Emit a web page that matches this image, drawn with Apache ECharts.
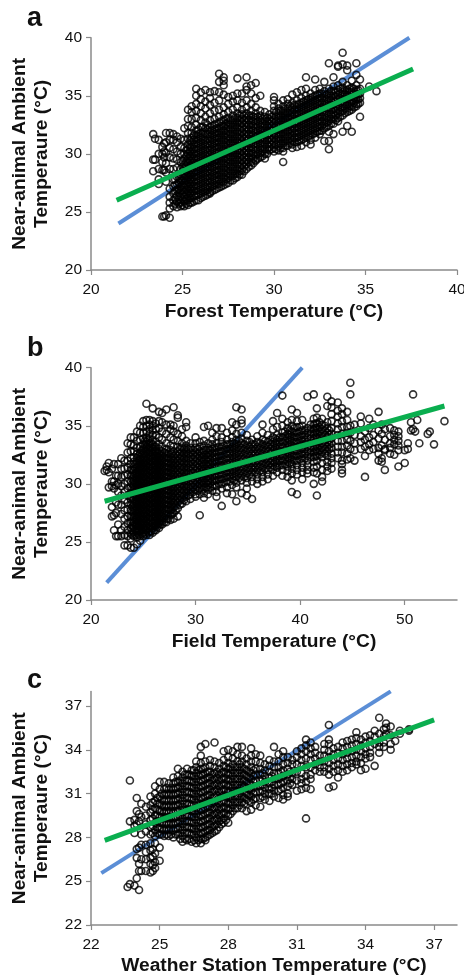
<!DOCTYPE html>
<html><head><meta charset="utf-8">
<script src="https://cdn.jsdelivr.net/npm/echarts@6/dist/echarts.min.js"></script>
<style>html,body{margin:0;padding:0;background:#fff}#c{width:464px;height:976px}</style></head>
<body><div id="c"></div>
<script>
// Each entry: [x value, [y values read at about that x]]
const forestPoints=[
[23.4,[31.7,29.5,28.5]],[23.5,[31.3,29.5]],[23.7,[31.2,30,28.7,27.8,27.4]],[23.9,[30.6,30,29.3,28.6,24.6]],[24,[30.9,30.2,29.7,28.6,24.6]],[24.1,[31.8,31,30.1,29.2,28.4,27.6,24.7]],
[24.3,[31.8,31.2,30.5,29.7,28.7,27,26.3,25.8,25.3,24.5]],[24.5,[31.7,31.2,30.4,29.6,28.7,27.8,27.2,26.6,26,25.5]],[24.7,[31.5,31,30.2,29.5,28.8,28,27.4,26.9,26.4,25.9,25.4]],
[24.9,[31.3,30.6,30,29.3,28.7,28.2,27.7,27.2,26.8,26.3,25.8,25.5]],
[25.1,[32.2,31.2,30.5,30,29.6,29.1,28.7,28.3,27.9,27.5,27.1,26.7,26.3,25.9,25.5]],
[25.3,[33.8,33,32.4,31.8,31.3,30.8,30.4,30,29.6,29.2,28.8,28.4,28,27.6,27.2,26.8,26.4,26,25.6]],
[25.5,[34.1,33.6,33,32.3,31.8,31.4,31,30.6,30.2,29.8,29.4,29,28.6,28.2,27.8,27.4,27,26.6,26.2,25.8]],
[25.75,[35.6,35,34.3,33.7,33.1,32.5,32,31.6,31.2,30.8,30.4,30,29.6,29.2,28.8,28.4,28,27.6,27.2,26.8,26.4,26]],
[26,[35.3,34.7,34.1,33.5,32.9,32.3,31.8,31.4,31,30.6,30.2,29.8,29.4,29,28.6,28.2,27.8,27.4,27,26.6,26.2]],
[26.25,[35.5,34.5,33.9,33.2,32.7,32.2,31.7,31.2,30.8,30.4,30,29.6,29.2,28.8,28.4,28,27.6,27.2,26.8,26.4]],
[26.5,[35.3,34.8,34.2,33.5,32.9,32.3,31.9,31.5,31.1,30.7,30.3,29.9,29.5,29.1,28.7,28.3,27.9,27.5,27.1,26.7,26.6]],
[26.75,[35.4,34.4,33.7,33,32.5,32.1,31.7,31.3,30.9,30.5,30.1,29.7,29.3,28.9,28.5,28.1,27.7,27.3,26.9]],
[27,[36.9,36.2,35.3,34.6,33.8,33.2,32.7,32.2,31.8,31.4,31,30.6,30.2,29.8,29.4,29,28.6,28.2,27.8,27.4,27.1]],
[27.25,[36.6,36.3,35.9,35.1,34,33.4,32.9,32.4,32,31.6,31.2,30.8,30.4,30,29.6,29.2,28.8,28.4,28,27.6,27.3]],
[27.5,[34.9,34.3,33.6,33.1,32.7,32.3,31.9,31.5,31.1,30.7,30.3,29.9,29.5,29.1,28.7,28.3,27.9,27.5]],
[27.75,[35,34.5,33.8,33.3,32.9,32.5,32.1,31.7,31.3,30.9,30.5,30.1,29.7,29.3,28.9,28.5,28.1,27.7]],
[28,[36.5,35.2,34.6,34,33.5,33.1,32.7,32.3,31.9,31.5,31.1,30.7,30.3,29.9,29.5,29.1,28.7,28.3,28]],
[28.25,[35.2,34.4,33.8,33.4,33,32.6,32.2,31.8,31.4,31,30.6,30.2,29.8,29.4,29,28.6,28.2]],
[28.5,[36.6,35.8,35.5,34.6,34,33.5,33.1,32.7,32.3,31.9,31.5,31.1,30.7,30.3,29.9,29.5,29.1,28.7]],
[28.75,[35.9,35.2,34.3,33.7,33.3,32.9,32.5,32.1,31.7,31.3,30.9,30.5,30.1,29.7,29.3,29]],
[29,[36.1,34.8,34,33.5,33.1,32.7,32.3,31.9,31.5,31.1,30.7,30.3,29.9,29.5,29.4]],
[29.25,[35,33.7,33.3,32.9,32.5,32.1,31.7,31.3,30.9,30.5,30.1,29.7]],
[29.5,[33.6,33.2,32.8,32.4,32,31.6,31.2,30.8,30.4,30,29.6]],
[29.75,[33.4,33,32.6,32.2,31.8,31.4,31,30.6,30.3]],
[30,[34.9,34.6,34.1,33.7,33.3,32.9,32.5,32.1,31.7,31.3,30.9,30.5,30.2]],
[30.25,[34.3,33.9,33.5,33.1,32.7,32.3,31.9,31.5,31.1,30.7,30.3]],
[30.5,[34.6,34.1,33.7,33.3,32.9,32.5,32.1,31.7,31.3,30.9,30.5,30.2,29.3]],
[30.75,[34.7,34.3,33.9,33.5,33.1,32.7,32.3,31.9,31.5,31.1,30.7]],
[31,[35.1,34.4,34,33.6,33.2,32.8,32.4,32,31.6,31.2,30.8,30.5]],
[31.25,[35.3,34.6,34.2,33.8,33.4,33,32.6,32.2,31.8,31.4,31,30.6]],
[31.5,[35.5,34.8,34.4,34,33.6,33.2,32.8,32.4,32,31.6,31.2,30.7]],
[31.75,[36.6,35.6,35,34.6,34.2,33.8,33.4,33,32.6,32.2,31.8,31.4,31]],
[32,[35.2,34.8,34.4,34,33.6,33.2,32.8,32.4,32,31.6,31.2,30.8]],
[32.25,[36.4,35.5,35,34.6,34.2,33.8,33.4,33,32.6,32.2,31.8,31.4]],
[32.5,[35.6,35.2,34.8,34.4,34,33.6,33.2,32.8,32.4,32,31.7]],
[32.75,[36.2,35.4,35,34.6,34.2,33.8,33.4,33,32.6,32.2,31.1]],
[33,[37.8,35.6,35.2,34.8,34.4,34,33.6,33.2,32.8,32.4,31.9,31.1,30.4]],
[33.25,[36.6,35.8,35.4,35,34.6,34.2,33.8,33.4,33,32.6,31.7]],
[33.5,[37.6,37.5,35.9,35.5,35.1,34.7,34.3,33.9,33.5,33.1,32.8]],
[33.75,[38.7,37.7,36.2,35.7,35.3,34.9,34.5,34.1,33.7,33.3,31.9]],
[34,[37.6,37.2,35.9,35.5,35.1,34.7,34.3,33.9,33.6,32.4]],
[34.25,[36.3,35.7,35.3,34.9,34.5,34.1,33.8,31.9]],
[34.5,[37.8,36.8,35.9,35.5,35.1,34.7,34.3,34.1]],
[34.7,[36.4,35.6,35.2,34.8,34.4,33.2]],[35.2,[35.8]],[35.6,[35.4]]
];
const forestCore=[
[24.6,[25.7,26.2,26.8,27.3,27.8]],[24.8,[25.7,26.1,26.6,27,27.5,27.9]],[25,[25.6,26,26.5,26.9,27.3,27.7,28.1,28.5,28.9,29.4]],
[25.2,[25.7,26.1,26.5,26.9,27.3,27.7,28.1,28.5,28.9,29.3,29.8,30.3]],[25.4,[25.8,26.2,26.6,27,27.4,27.8,28.2,28.6,29,29.4,29.8,30.2,30.6,31.1]],
[25.62,[25.9,26.4,26.8,27.2,27.6,28,28.4,28.8,29.2,29.6,30,30.4,30.8,31.2,31.6]],[25.87,[26,26.5,26.9,27.3,27.7,28.1,28.5,28.9,29.3,29.7,30.1,30.5,30.9,31.3,31.7,32.1]],
[26.12,[26.3,26.7,27.1,27.5,27.9,28.3,28.7,29.1,29.5,29.9,30.3,30.7,31.1,31.5,31.9,32.3]],[26.37,[26.5,26.9,27.3,27.7,28.1,28.5,28.9,29.3,29.7,30.1,30.5,30.9,31.3,31.7,32.1,32.5]],
[26.62,[26.8,27.2,27.6,28,28.4,28.8,29.2,29.6,30,30.4,30.8,31.2,31.6,32,32.4]],[26.87,[27,27.4,27.8,28.2,28.6,29,29.4,29.8,30.2,30.6,31,31.4,31.8,32.2,32.6]],
[27.12,[27.2,27.6,28,28.4,28.8,29.2,29.6,30,30.4,30.8,31.2,31.6,32,32.4,32.8]],[27.37,[27.4,27.8,28.2,28.6,29,29.4,29.8,30.2,30.6,31,31.4,31.8,32.2,32.6,33]],
[27.62,[27.7,28.1,28.5,28.9,29.3,29.7,30.1,30.5,30.9,31.3,31.7,32.1,32.5,32.9]],[27.87,[27.9,28.3,28.7,29.1,29.5,29.9,30.3,30.7,31.1,31.5,31.9,32.3,32.7,33.1]],
[28.12,[28.2,28.5,28.9,29.3,29.7,30.1,30.5,30.9,31.3,31.7,32.1,32.5,32.9,33.3]],[28.37,[28.5,28.9,29.3,29.7,30.1,30.5,30.9,31.3,31.7,32.1,32.5,32.9,33.3]],
[28.62,[28.9,29.3,29.7,30.1,30.5,30.9,31.3,31.7,32.1,32.5,32.9,33.3]],[28.87,[29.2,29.6,30,30.4,30.8,31.2,31.6,32,32.4,32.8,33.2]],
[29.12,[29.6,30,30.4,30.8,31.2,31.6,32,32.4,32.8,33.2]],[29.37,[29.8,30.2,30.6,31,31.4,31.8,32.2,32.6,33]],[29.62,[30,30.4,30.8,31.2,31.6,32,32.4,32.8,33.1]],[29.87,[30.4,30.8,31.2,31.6,32,32.4,32.8,33.2]],
[30.12,[30.4,30.8,31.2,31.6,32,32.4,32.8,33.2,33.6]],[30.37,[30.5,30.9,31.3,31.7,32.1,32.5,32.9,33.3,33.7]],[30.62,[30.7,31.1,31.5,31.9,32.3,32.7,33.1,33.5,33.9]],[30.87,[30.9,31.3,31.7,32.1,32.5,32.9,33.3,33.7,34.1]],
[31.12,[31,31.4,31.8,32.2,32.6,33,33.4,33.8,34.2]],[31.37,[31.1,31.5,31.9,32.3,32.7,33.1,33.5,33.9,34.3]],[31.62,[31.3,31.7,32.1,32.5,32.9,33.3,33.7,34.1,34.5]],[31.87,[31.5,31.9,32.3,32.7,33.1,33.5,33.9,34.3,34.7]],
[32.12,[31.7,32.1,32.5,32.9,33.3,33.7,34.1,34.5,34.9]],[32.37,[31.9,32.3,32.7,33.1,33.5,33.9,34.3,34.7,35.1]],[32.62,[32,32.4,32.8,33.2,33.6,34,34.4,34.8,35.2]],[32.87,[32.3,32.7,33.1,33.5,33.9,34.3,34.7,35.1]],
[33.12,[32.6,33,33.4,33.8,34.2,34.6,35,35.4]],[33.37,[32.9,33.3,33.7,34.1,34.5,34.9,35.3]],[33.62,[33.2,33.6,34,34.4,34.8,35.2,35.6]],[33.87,[33.5,33.9,34.3,34.7,35.1,35.5]],[34.12,[33.7,34.1,34.5,34.9,35.3,35.6]],[34.37,[34,34.4,34.8,35.2,35.6]],[34.6,[34.3,34.7,35.1,35.5]]
];
const fieldPoints=[
[21.3,[31.1]],[21.5,[31.5,31.2]],[21.7,[31.8,31,29.7]],[22,[31.3,30.2,29.8,28,27.2]],[22.2,[31.7,30.2,29.6,27.3,26]],[22.4,[30.7,29.9,28.4,27.5,25.5]],[22.6,[31.7,30.7,30,29.3,28.2,26.5,25.5]],[22.9,[32.2,31.3,30.6,29.8,29,28.2,27.4,26,25.5]],
[23.2,[32,31.3,30.7,30,29.3,28.6,27.7,27,26.3,25.6,24.7]],[23.5,[33.5,32.7,32,31.4,30.8,30.2,29.6,29,28.4,27.8,27.2,26.6,26,25.5,24.7]],
[23.8,[34,33.4,32.8,32.2,31.7,31.2,30.7,30.2,29.7,29.2,28.7,28.2,27.7,27.2,26.7,26.2,25.7,25.3,24.5]],
[24.1,[34,33.3,32.8,32.3,31.9,31.5,31.1,30.7,30.3,29.9,29.5,29.1,28.7,28.3,27.9,27.5,27.1,26.7,26.3,25.9,25.5,24.5]],
[24.4,[34.5,33.7,33.1,32.6,32.2,31.8,31.4,31,30.6,30.2,29.8,29.4,29,28.6,28.2,27.8,27.4,27,26.6,26.2,25.8,25.4,24.8]],
[24.7,[35,34.4,33.8,33.2,32.7,32.3,31.9,31.5,31.1,30.7,30.3,29.9,29.5,29.1,28.7,28.3,27.9,27.5,27.1,26.7,26.3,25.9,25.5,25.1]],
[25,[35.4,34.9,34.4,33.9,33.4,33,32.6,32.2,31.8,31.4,31,30.6,30.2,29.8,29.4,29,28.6,28.2,27.8,27.4,27,26.6,26.2,25.8,25.5]],
[25.3,[36.9,35.5,35,34.5,34,33.6,33.2,32.8,32.4,32,31.6,31.2,30.8,30.4,30,29.6,29.2,28.8,28.4,28,27.6,27.2,26.8,26.4,26,25.6]],
[25.6,[35.5,35.1,34.7,34.3,33.9,33.5,33.1,32.7,32.3,31.9,31.5,31.1,30.7,30.3,29.9,29.5,29.1,28.7,28.3,27.9,27.5,27.1,26.7,26.3,25.9,25.6]],
[25.9,[36.5,35.4,35,34.6,34.2,33.8,33.4,33,32.6,32.2,31.8,31.4,31,30.6,30.2,29.8,29.4,29,28.6,28.2,27.8,27.4,27,26.6,26.2,25.8]],
[26.2,[35.2,34.7,34.2,33.6,33.2,32.8,32.4,32,31.6,31.2,30.8,30.4,30,29.6,29.2,28.8,28.4,28,27.6,27.2,26.8,26.4,26]],
[26.5,[36.2,35.4,34.8,34,33.4,33,32.6,32.2,31.8,31.4,31,30.6,30.2,29.8,29.4,29,28.6,28.2,27.8,27.4,27,26.6,26.2]],
[26.8,[36.1,35.3,34.5,33.8,33.2,32.8,32.4,32,31.6,31.2,30.8,30.4,30,29.6,29.2,28.8,28.4,28,27.6,27.2,26.8,26.5]],
[27.2,[36.4,35.1,34.3,33.5,33,32.6,32.2,31.8,31.4,31,30.6,30.2,29.8,29.4,29,28.6,28.2,27.8,27.4,27,26.7]],
[27.6,[35.1,34.7,34,33.3,32.9,32.5,32.1,31.7,31.3,30.9,30.5,30.1,29.7,29.3,28.9,28.5,28.1,27.7,27.3,26.9]],
[27.9,[36.6,35,34.5,33.8,33.2,32.8,32.4,32,31.6,31.2,30.8,30.4,30,29.6,29.2,28.8,28.4,28,27.5,27]],
[28.3,[35.9,35.7,34.3,33.7,33.2,32.8,32.4,32,31.6,31.2,30.8,30.4,30,29.6,29.2,28.8,28.4,27.9,27.2]],
[28.7,[34.7,34.1,33.5,33.1,32.7,32.3,31.9,31.5,31.1,30.7,30.3,29.9,29.5,29.1,28.7,28.3]],
[29.1,[35.3,34.9,33.7,33.3,32.9,32.5,32.1,31.7,31.3,30.9,30.5,30.1,29.7,29.3,28.9,28.5]],
[29.5,[33.5,33.1,32.7,32.3,31.9,31.5,31.1,30.7,30.3,29.9,29.5,29.1,28.7]],
[30,[34,33.5,33.1,32.7,32.3,31.9,31.5,31.1,30.7,30.3,29.9,29.5,29.1,28.9]],
[30.4,[33.6,33.2,32.8,32.4,32,31.6,31.2,30.8,30.4,30,29.6,29.1,27.3]],
[30.8,[34.9,33.7,33.3,32.9,32.5,32.1,31.7,31.3,30.9,30.5,30.1,29.7,29.2,28.8]],
[31.2,[35,33.5,33.1,32.7,32.3,31.9,31.5,31.1,30.7,30.3,29.9,29.5,29.1]],
[31.6,[34.4,33.8,33.4,33,32.6,32.2,31.8,31.4,31,30.6,30.2,29.8,29.4]],
[32,[34.8,34.1,33.5,33.1,32.7,32.3,31.9,31.5,31.1,30.7,30.3,29.8,29.3,28.9]],
[32.5,[34.8,34,33.6,33.2,32.8,32.4,32,31.6,31.2,30.8,30.4,30,29.6,28.1]],
[33,[34.4,33.8,33.4,33,32.6,32.2,31.8,31.4,31,30.6,30.2,29.7,29.2]],
[33.5,[35.3,34.6,34,33.6,33.2,32.8,32.4,32,31.6,31.2,30.8,30.4,29.9,29.1]],
[33.9,[36.6,35.1,34.3,33.8,33.4,33,32.6,32.2,31.8,31.4,31,30.6,30.1,29.7,28.5]],
[34.4,[36.4,35.5,35.2,34.4,33.9,33.5,33.1,32.7,32.3,31.9,31.5,31.1,30.7,30.3,29.2]],
[34.9,[34.2,33.7,33.3,32.9,32.5,32.1,31.7,31.3,30.9,30.5,30.1,29.6,29]],
[35.4,[33.8,33.4,33,32.6,32.2,31.8,31.4,31,30.6,30.2,28.7]],
[35.9,[34.1,33.6,33.2,32.8,32.4,32,31.6,31.2,30.8,30.4,30]],
[36.4,[35.1,34.4,33.8,33.4,33,32.6,32.2,31.8,31.4,31,30.6,30.2]],
[36.9,[34.2,33.6,33.2,32.8,32.4,32,31.6,31.2,30.8,30.4]],
[37.4,[35.4,34.7,34,33.6,33.2,32.8,32.4,32,31.6,31.2,30.7]],
[37.8,[36.1,34.9,34.2,33.8,33.4,33,32.6,32.2,31.8,31.4,31]],
[38.3,[37.6,35.6,35,34.4,34,33.6,33.2,32.8,32.4,32,31.6,31.2,30.7]],
[38.8,[35.3,34.8,34.3,33.9,33.5,33.1,32.7,32.3,31.9,31.5,31.1,30.6]],
[39.2,[36.4,35.5,35,34.5,34.1,33.7,33.3,32.9,32.5,32.1,31.7,31.3,30.9,30.3,29.3]],
[39.7,[36.1,35.4,34.9,34.4,34,33.6,33.2,32.8,32.4,32,31.6,31.2,30.8,29.1]],
[40.2,[35.5,35,34.6,34.2,33.8,33.4,33,32.6,32.2,31.8,31.4,31,30.4]],
[40.7,[37.5,34.8,34.4,34,33.6,33.2,32.8,32.4,32,31.6,31.2,30.9]],
[41.3,[37.7,35.6,35.1,34.7,34.3,33.9,33.5,33.1,32.7,32.3,31.9,31.4,31,30]],
[41.6,[36.5,35.7,35.2,34.8,34.4,34,33.6,33.2,32.8,32.4,32,31.5,30.9,29]],
[42.1,[35.6,35.1,34.7,34.3,33.9,33.5,33.1,32.7,32.3,31.8,31.2,30.6,30.2]],
[42.6,[37.5,36.7,35.3,34.8,34.4,34,33.6,33.2,32.8,32.4,31.9,31.5,31.1]],
[43,[37.1,36.6,36,35.4,34.8,34.3,33.9,33.5,33.1,32.6,32.2,31.8,31.3]],
[43.6,[37,36.3,35.8,35.2,34.7,34.2,33.7,33.2,32.7,32.2]],
[44,[36.5,36,35.4,34.9,34.3,33.7,33.2,32.7,32,31.7,31.2,30.9]],
[44.5,[36.2,35.5,34.9,34.4,33.8,33.3,32.6,32.1]],[44.8,[38.7,37.7,35,34.4,33.7,33,32.2]],[45.2,[35.1,34.2,33.5,32.9,32]],[45.8,[35.8,35.2,34.1,33.6,33]],[46.2,[34.5,33.8,33.2,32.4,30.6]],[46.6,[35.6,34.8,34,33.4,32.9]],[47,[35.1,34.2,33.6,33]],[47.5,[36.2,34.6,33.9,33.1,32.6,32]],[47.8,[35.1,34.3,33.3,32.2,31.9]],[48.1,[34.7,33.8,33,32.9,31.2]],[48.6,[34.8,34.1,33.5,33.1,32.6]],[49,[34.6,34.2,33.8,33.4,32.5]],[49.4,[34.5,34.1,33.7,33.3,32.9,31.5]],[50,[32.9,31.8]],[50.3,[33.5,33]],[50.6,[35.3,34.6]],[50.8,[37.7,34.7]],[51,[34.5]],[51.2,[35.5]],[51.4,[33.5]],[52.2,[34.3]],[52.4,[34.5]],[52.8,[33.4]],[53.8,[35.4]]
];
const fieldCore=[
[23.95,[25.6,26,26.4,26.8,27.2,27.6,28,28.4,28.8,29.2,29.6,30,30.4,30.8,31.2]],[24.25,[25.6,26.1,26.5,26.9,27.3,27.7,28.1,28.5,28.9,29.3,29.7,30.1,30.5,30.9,31.3,31.7]],
[24.55,[25.6,26,26.4,26.8,27.2,27.6,28,28.4,28.8,29.2,29.6,30,30.4,30.8,31.2,31.6,32,32.4]],[24.85,[25.7,26.1,26.5,26.9,27.3,27.7,28.1,28.5,28.9,29.3,29.7,30.1,30.5,30.9,31.3,31.7,32.1,32.5,32.9]],
[25.15,[25.7,26.1,26.5,26.9,27.3,27.7,28.1,28.5,28.9,29.3,29.7,30.1,30.5,30.9,31.3,31.7,32.1,32.5,32.9,33.3,33.7]],[25.45,[25.8,26.2,26.6,27,27.4,27.8,28.2,28.6,29,29.4,29.8,30.2,30.6,31,31.4,31.8,32.2,32.6,33,33.4,33.8]],
[25.75,[25.9,26.3,26.7,27.1,27.5,27.9,28.3,28.7,29.1,29.5,29.9,30.3,30.7,31.1,31.5,31.9,32.3,32.7,33.1,33.5]],[26.05,[26,26.4,26.8,27.2,27.6,28,28.4,28.8,29.2,29.6,30,30.4,30.8,31.2,31.6,32,32.4,32.8,33.2]],
[26.35,[26.3,26.7,27.1,27.5,27.9,28.3,28.7,29.1,29.5,29.9,30.3,30.7,31.1,31.5,31.9,32.3,32.7]],[26.65,[26.5,26.9,27.3,27.7,28.1,28.5,28.9,29.3,29.7,30.1,30.5,30.9,31.3,31.7,32.1,32.5]],
[27,[26.7,27.1,27.5,27.9,28.3,28.7,29.1,29.5,29.9,30.3,30.7,31.1,31.5,31.9,32.3,32.7]],[27.4,[27,27.4,27.8,28.2,28.6,29,29.4,29.8,30.2,30.6,31,31.4,31.8,32.2,32.6]],
[27.75,[27.4,27.8,28.2,28.6,29,29.4,29.8,30.2,30.6,31,31.4,31.8,32.2,32.6]],[28.1,[27.7,28.1,28.5,28.9,29.3,29.7,30.1,30.5,30.9,31.3,31.7,32.1,32.5]],
[28.5,[28.2,28.6,29,29.4,29.8,30.2,30.6,31,31.4,31.8,32.2,32.6,33]],[28.9,[28.6,29,29.4,29.8,30.2,30.6,31,31.4,31.8,32.2,32.6,33]],[29.3,[29,29.4,29.8,30.2,30.6,31,31.4,31.8,32.2,32.6,33]],[29.75,[29.3,29.7,30.1,30.5,30.9,31.3,31.7,32.1,32.5,32.9]],
[30.2,[29.4,29.8,30.2,30.6,31,31.4,31.8,32.2,32.6,33]],[30.6,[29.5,29.9,30.3,30.7,31.1,31.5,31.9,32.3,32.7]],[31,[29.7,30.1,30.5,30.9,31.3,31.7,32.1,32.5,32.9]],[31.4,[29.7,30.1,30.5,30.9,31.3,31.7,32.1,32.5,32.9]],[31.8,[29.9,30.3,30.7,31.1,31.5,31.9,32.3,32.7,33.1]],
[32.25,[30,30.4,30.8,31.2,31.6,32,32.4,32.8,33.2]],[32.75,[30.1,30.5,30.9,31.3,31.7,32.1,32.5,32.9,33.3]],[33.25,[30.2,30.6,31,31.4,31.8,32.2,32.6,33,33.4]],[33.7,[30.3,30.7,31.1,31.5,31.9,32.3,32.7,33.1,33.5]],[34.15,[30.5,30.9,31.3,31.7,32.1,32.5,32.9,33.3,33.7]],
[34.65,[30.6,31,31.4,31.8,32.2,32.6,33,33.4]],[35.15,[30.8,31.2,31.6,32,32.4,32.8,33.2,33.6]],[35.65,[31,31.4,31.8,32.2,32.6,33,33.4]],[36.15,[31.1,31.5,31.9,32.3,32.7,33.1,33.5]],[36.65,[31.3,31.7,32.1,32.5,32.9,33.3,33.7]],
[37.15,[31.4,31.8,32.2,32.6,33,33.4,33.8]],[37.6,[31.5,31.9,32.3,32.7,33.1,33.5,33.9]],[38.05,[31.6,32,32.4,32.8,33.2,33.6,34]],[38.55,[31.7,32.1,32.5,32.9,33.3,33.7,34.1,34.5]],[39,[31.8,32.2,32.6,33,33.4,33.8,34.2,34.6]],
[39.45,[32,32.4,32.8,33.2,33.6,34,34.4,34.8]],[39.95,[32.1,32.5,32.9,33.3,33.7,34.1,34.5,34.9]],[40.45,[32.2,32.6,33,33.4,33.8,34.2,34.6]],[41,[32.3,32.7,33.1,33.5,33.9,34.3,34.7,35.1]],[41.45,[32.4,32.8,33.2,33.6,34,34.4,34.8,35.2]],[41.85,[32.5,32.9,33.3,33.7,34.1,34.5,34.9,35.3]],[42.35,[32.6,33,33.4,33.8,34.2,34.6,35]],[42.8,[33,33.4,33.8,34.2,34.6]]
];
const stationPoints=[
[23.6,[24.6]],[23.7,[24.8,31.9,29.1]],[23.9,[24.7,28.3,29.2,28.8]],[24,[30.7,29.8,25.2,28.9,27.2,26.6]],[24.1,[24.4,26.2,27.3,25.7,29.1,29.6]],[24.2,[30.3,29.4,28.2,27.5,26.5,25.7]],
[24.4,[30.1,29.5,28.9,28.4,27.5,27,26.5,25.7]],[24.6,[30.8,30.2,29.7,29.2,28.7,28.2,27.6,27.1,26.6,26.2,25.6]],[24.7,[30.4,29.9,29.3,28.8,28.3,27.2,26.7,26.1,25.7]],
[24.8,[31.5,31,30.5,30,29.5,29,28.5,28.1,27.6,26.9,26.3,25.9]],[25,[31.8,31.3,30.8,30.3,29.8,29.4,29,28.6,28.2,27.3,26.4]],[25.2,[31.8,31.3,30.9,30.5,30.1,29.7,29.3,28.9,28.5,28.1]],
[25.4,[31.7,31.3,30.9,30.5,30.1,29.7,29.3,28.9,28.5,28.1]],[25.6,[32.1,31.7,31.3,30.9,30.5,30.1,29.7,29.3,28.9,28.5,28]],[25.8,[32.7,32.2,31.8,31.4,31,30.6,30.2,29.8,29.4,29,28.6,28.2]],
[26,[32.5,32.1,31.7,31.3,30.9,30.5,30.1,29.7,29.3,28.9,28.5,28.1,27.7]],[26.2,[32.7,32.3,31.9,31.5,31.1,30.7,30.3,29.9,29.5,29.1,28.7,28.3,27.8]],[26.4,[32.6,32.2,31.8,31.4,31,30.6,30.2,29.8,29.4,29,28.6,28.2,27.7]],
[26.6,[33.2,32.8,32.4,32,31.6,31.2,30.8,30.4,30,29.6,29.2,28.8,28.4,28,27.6]],[26.8,[34.2,33.6,33.1,32.7,32.3,31.9,31.5,31.1,30.7,30.3,29.9,29.5,29.1,28.7,28.3,27.9,27.6]],[27,[34.4,33.2,32.8,32.4,32,31.6,31.2,30.8,30.4,30,29.6,29.2,28.8,28.4,28,27.8]],
[27.2,[33.3,32.9,32.5,32.1,31.7,31.3,30.9,30.5,30.1,29.7,29.3,28.9,28.5,28.2]],[27.4,[34.5,33.2,32.8,32.4,32,31.6,31.2,30.8,30.4,30,29.6,29.2,28.8,28.4]],[27.6,[33.1,32.7,32.3,31.9,31.5,31.1,30.7,30.3,29.9,29.5,29.1,28.7]],
[27.8,[33.9,33.3,32.9,32.5,32.1,31.7,31.3,30.9,30.5,30.1,29.7,29.3,29]],[28,[34,33.5,33.1,32.7,32.3,31.9,31.5,31.1,30.7,30.3,29.9,29.5,29]],[28.2,[33.9,33.4,33,32.6,32.2,31.8,31.4,31,30.6,30.2,29.8]],
[28.4,[34.2,33.7,33.2,32.8,32.4,32,31.6,31.2,30.8,30.4,30]],[28.6,[34.2,33.6,33.2,32.8,32.4,32,31.6,31.2,30.8,30.4,30]],[28.8,[33.4,33,32.6,32.2,31.8,31.4,31,30.6,29.8]],
[29,[34.1,33.6,33.2,32.8,32.4,32,31.6,31.2,30.8,30.4,29.9]],[29.2,[33.7,33.2,32.7,32.3,31.9,31.5,31.1,30.7,30.2]],[29.4,[33.6,33.1,32.7,32.3,31.9,31.5,31.1,30.7,30.1]],[29.6,[33,32.6,32.2,31.8,31.4,31,30.6]],
[29.8,[33.3,32.9,32.5,32.1,31.7,31.3,31,30.5]],[30,[34.2,33.2,32.8,32.4,32,31.6,31.2,30.8]],[30.2,[33.7,33.2,32.8,32.4,32,31.6,31.2,30.7]],[30.4,[33.9,33.5,33,32.6,32.2,31.8,31.4,30.9,30.6]],[30.6,[33.5,33.1,32.7,32.3,31.9,31.5,31,30.8]],
[30.8,[33.3,33,32.4,32,31.6]],[31,[33.9,33.5,33,32.5,31.9,31.2]],[31.2,[34.1,33.7,33.3,32.9,32.4,32,31.7,31.3]],[31.4,[34.7,34.3,33.9,33.4,32.8,32.2,31.8,31.4,29.3]],[31.6,[34.5,34.1,33.7,33.3,32.8,32.3,32,31.3]],[31.8,[34.2,33.8,33.4,33,32.6]],
[32,[33.6,33.2,32.8,32.5]],[32.2,[34.4,34,33.6,33.2,32.8,32.5]],[32.4,[34.7,34.4,33.9,33.5,33.1,32.7,32.3,31.4,35.7]],[32.6,[34.1,33.7,33.3,32.9,32.5,31.5]],[32.8,[34.2,33.8,33.4,33,32.6,32.1]],[33,[34.5,34.1,33.7,33.3,32.9,32.5]],
[33.2,[34.6,34.2,33.8,33.4,33,32.6]],[33.4,[34.7,34.3,33.9,33.5,33.1,32.8]],[33.6,[35.2,34.8,34.4,34,33.6,33.2,33]],[33.8,[34.7,34.3,33.9,33.5,33.1,32.6]],[34,[34.9,34.5,34.1,33.7,33.4,32.7]],
[34.2,[35,34.6,34.2,33.8,33.5]],[34.4,[35.3,34.9,34.4,32.9]],[34.6,[36.2,35.1,34.5,34.2,33.8]],[34.8,[35.4,34.9,34.5,34.2]],[34.9,[35.8,35.5,35.1]],[35.1,[35.6,35,34.4,34]],[35.3,[34.6]],[35.5,[35.3,35.1]],[35.9,[35.4,35.3]]
];
const stationCore=[
[24.9,[28.3,28.7,29.1,29.5,29.9,30.3,30.7]],[25.1,[28.2,28.6,29,29.4,29.8,30.2,30.6,31]],[25.3,[28.2,28.6,29,29.4,29.8,30.2,30.6,31,31.4]],[25.5,[28.2,28.6,29,29.4,29.8,30.2,30.6,31,31.4]],
[25.7,[28.2,28.6,29,29.4,29.8,30.2,30.6,31,31.4,31.8]],[25.9,[27.9,28.3,28.7,29.1,29.5,29.9,30.3,30.7,31.1,31.5,31.9]],[26.1,[27.9,28.3,28.7,29.1,29.5,29.9,30.3,30.7,31.1,31.5,31.9,32.3]],[26.3,[27.9,28.3,28.7,29.1,29.5,29.9,30.3,30.7,31.1,31.5,31.9,32.3]],
[26.5,[27.8,28.2,28.6,29,29.4,29.8,30.2,30.6,31,31.4,31.8,32.2,32.6]],[26.7,[27.8,28.2,28.6,29,29.4,29.8,30.2,30.6,31,31.4,31.8,32.2,32.6]],[26.9,[27.9,28.3,28.7,29.1,29.5,29.9,30.3,30.7,31.1,31.5,31.9,32.3,32.7]],[27.1,[28.1,28.5,28.9,29.3,29.7,30.1,30.5,30.9,31.3,31.7,32.1,32.5]],
[27.3,[28.3,28.7,29.1,29.5,29.9,30.3,30.7,31.1,31.5,31.9,32.3]],[27.5,[28.5,28.9,29.3,29.7,30.1,30.5,30.9,31.3,31.7,32.1,32.5]],[27.7,[28.9,29.2,29.6,30,30.4,30.8,31.2,31.6,32,32.4]],[27.9,[29.2,29.6,30,30.4,30.8,31.2,31.6,32,32.4,32.8]],
[28.1,[29.6,30,30.4,30.8,31.2,31.6,32,32.4,32.8]],[28.3,[30,30.4,30.8,31.2,31.6,32,32.4,32.8]],[28.5,[30.2,30.6,31,31.4,31.8,32.2,32.6,33]],[28.7,[30.3,30.7,31.1,31.5,31.9,32.3,32.7]],[28.9,[30.5,30.9,31.3,31.7,32.1,32.5]],[29.1,[30.6,31,31.4,31.8,32.2,32.6]],[29.5,[30.8,31.2,31.6,32,32.4]],[29.9,[31,31.4,31.8,32.2]],[30.3,[31.3,31.7,32.1,32.5]],[30.7,[31.7,32.1,32.5]]
];
const forestXTicks=[20,25,30,35,40];
const forestYTicks=[20,25,30,35,40];
const fieldXTicks=[20,30,40,50];
const fieldYTicks=[20,25,30,35,40];
const stationXTicks=[22,25,28,31,34,37];
const stationYTicks=[22,25,28,31,34,37];
const forestBlue=[[21.5,24],[37.4,40]];
const forestGreen=[[21.4,26],[37.6,37.3]];
const fieldBlue=[[21.5,21.5],[40.2,40]];
const fieldGreen=[[21.3,28.5],[53.8,36.7]];
const stationBlue=[[22.45,25.55],[35.1,38]];
const stationGreen=[[22.6,27.8],[37,36.05]];

const flat=c=>c.flatMap(([x,ys])=>ys.map(y=>[x,y]));
const FONT='"Liberation Sans",Arial,sans-serif';
const panels=[
 {top:37.7,height:232.3,xr:[20,40],yr:[20,40],xt:forestXTicks,yt:forestYTicks,name:'Forest Temperature (°C)',gap:31,pts:forestPoints.concat(forestCore),blue:forestBlue,green:forestGreen,letter:'a',ly:5},
 {top:367.7,height:232.3,xr:[20,55],yr:[20,40],xt:fieldXTicks,yt:fieldYTicks,name:'Field Temperature (°C)',gap:31,pts:fieldPoints.concat(fieldCore),blue:fieldBlue,green:fieldGreen,letter:'b',ly:335},
 {top:691.4,height:233.6,xr:[22,38],yr:[22,38],xt:stationXTicks,yt:stationYTicks,name:'Weather Station Temperature (°C)',gap:30,pts:stationPoints.concat(stationCore),blue:stationBlue,green:stationGreen,letter:'c',ly:667}
];
const mk=(ticks,margin,extra)=>Object.assign({type:'value',scale:true,
  axisLine:{show:true,onZero:false,lineStyle:{color:'#8a8a8a',width:1.5}},
  axisTick:{show:true,length:5,customValues:ticks,lineStyle:{color:'#8a8a8a',width:1.2}},
  axisLabel:{fontFamily:FONT,fontSize:15.5,color:'#111',margin,customValues:ticks,hideOverlap:false,showMinLabel:true,showMaxLabel:true},
  splitLine:{show:false},nameLocation:'middle',
  nameTextStyle:{fontFamily:FONT,fontSize:19.2,fontWeight:'bold',color:'#111',lineHeight:22}},extra);
const option={animation:false,backgroundColor:'#fff',
 title:panels.map(p=>({text:p.letter,left:27,top:p.ly,textStyle:{fontFamily:FONT,fontSize:27,fontWeight:'bold',color:'#111'},padding:0})),
 grid:panels.map(p=>({left:91,width:366,top:p.top,height:p.height,outerBoundsMode:'none',containLabel:false})),
 xAxis:panels.map((p,i)=>mk(p.xt,12,{gridIndex:i,min:p.xr[0],max:p.xr[1],name:p.name,nameGap:p.gap})),
 yAxis:panels.map((p,i)=>mk(p.yt,9,{gridIndex:i,min:p.yr[0],max:p.yr[1],name:'Near-animal Ambient\nTemperaure (°C)',nameGap:38})),
 series:panels.flatMap((p,i)=>[
  {type:'line',xAxisIndex:i,yAxisIndex:i,data:p.blue,symbol:'none',z:1,lineStyle:{color:'#5b8ed6',width:4}},
  {type:'scatter',xAxisIndex:i,yAxisIndex:i,data:flat(p.pts),symbol:'circle',symbolSize:7,z:2,progressive:0,large:false,itemStyle:{color:'rgba(255,255,255,0)',borderColor:'#000',borderWidth:1.6}},
  {type:'line',xAxisIndex:i,yAxisIndex:i,data:p.green,symbol:'none',z:3,lineStyle:{color:'#0aae4f',width:5}}
 ])};
echarts.init(document.getElementById('c'),null,{renderer:'canvas'}).setOption(option);
</script></body></html>
